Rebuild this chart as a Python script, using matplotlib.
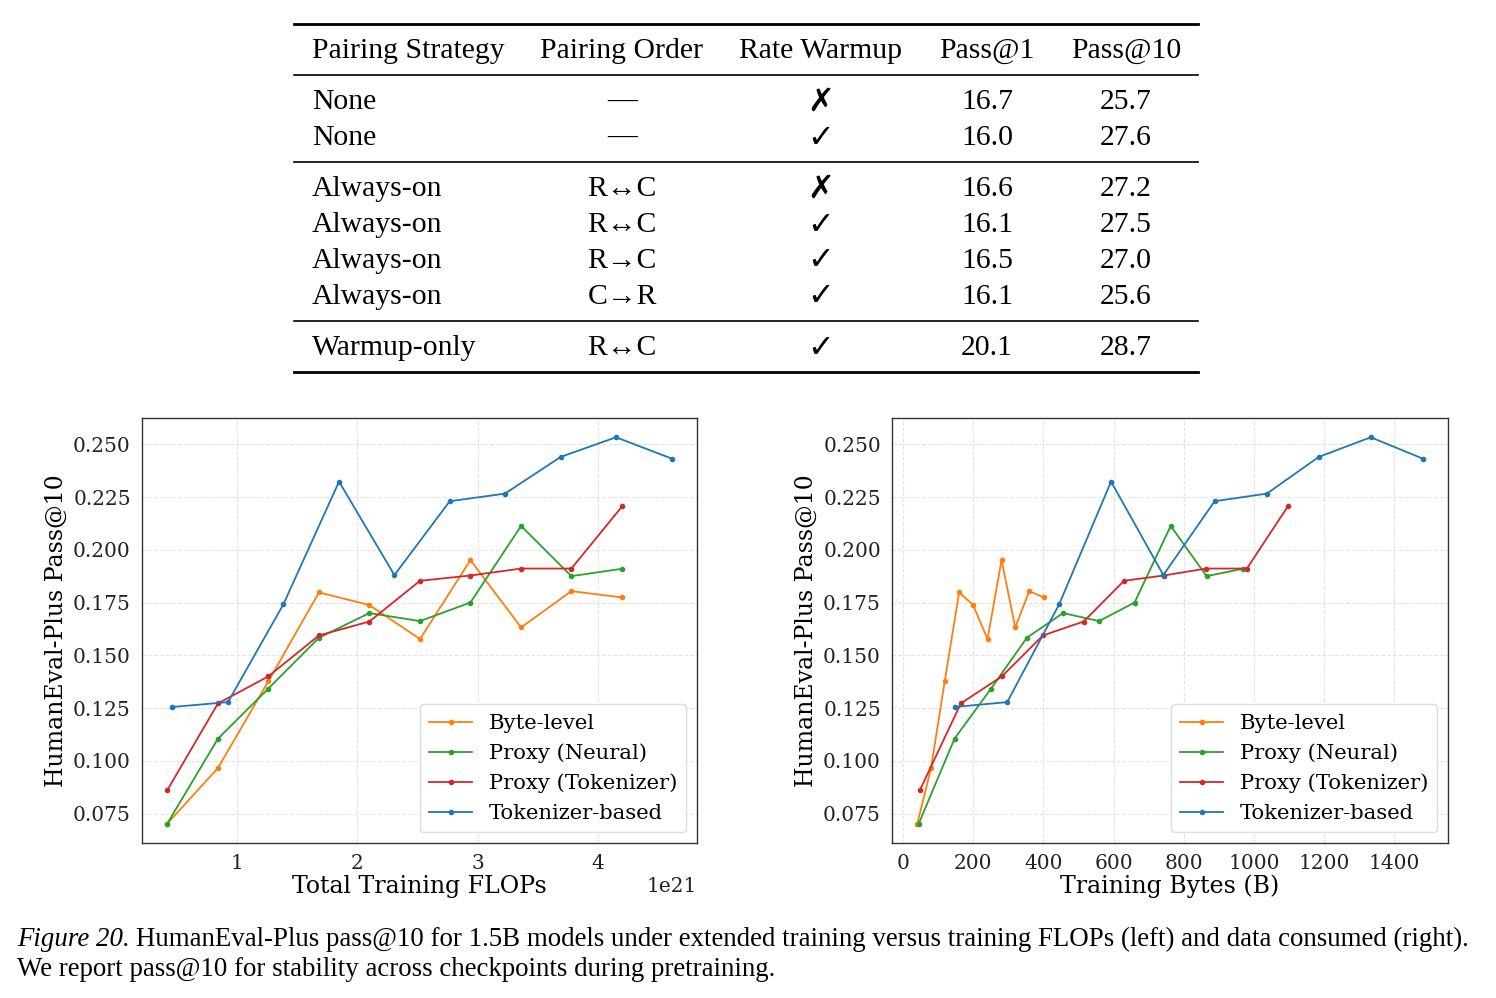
import matplotlib
matplotlib.use("Agg")
import matplotlib.pyplot as plt
from matplotlib.lines import Line2D

# --- table data ---
col_headers = ["Pairing Strategy", "Pairing Order", "Rate Warmup", "Pass@1", "Pass@10"]
strategy = ["None", "None", "Always-on", "Always-on", "Always-on", "Always-on", "Warmup-only"]
order = ["\u2014", "\u2014", "R\u2194C", "R\u2194C", "R\u2192C", "C\u2192R", "R\u2194C"]
warmup = [False, True, False, True, True, True, True]
pass1 = ["16.7", "16.0", "16.6", "16.1", "16.5", "16.1", "20.1"]
pass10 = ["25.7", "27.6", "27.2", "27.5", "27.0", "25.6", "28.7"]

# --- left plot: pass@10 vs total training FLOPs (x 1e21) ---
flops_byte = [0.421, 0.843, 1.261, 1.682, 2.101, 2.522, 2.941, 3.362, 3.780, 4.202]
flops_tok = [0.463, 0.926, 1.386, 1.849, 2.309, 2.769, 3.228, 3.691, 4.151, 4.614]

# --- right plot: training bytes (B) ---
bytes_byte = [41, 80, 119, 160, 200, 241, 281, 320, 360, 401]
bytes_neural = [45, 147, 251, 353, 456, 559, 660, 763, 865, 969]
bytes_proxy_tok = [48, 165, 282, 399, 515, 630, 743, 864, 980, 1097]
bytes_tok = [147, 297, 445, 593, 742, 888, 1037, 1185, 1333, 1481]

# --- pass@10 values ---
p10_byte = [0.0702, 0.0966, 0.1376, 0.1798, 0.1738, 0.1577, 0.1951, 0.1632, 0.1804, 0.1774]
p10_neural = [0.0702, 0.1105, 0.1342, 0.1583, 0.1700, 0.1662, 0.1750, 0.2113, 0.1875, 0.1910]
p10_proxy_tok = [0.0860, 0.1272, 0.1400, 0.1594, 0.1660, 0.1853, 0.1878, 0.1911, 0.1911, 0.2206]
p10_tok = [0.1255, 0.1278, 0.1741, 0.2323, 0.1880, 0.2230, 0.2266, 0.2440, 0.2533, 0.2432]

labels = ["Byte-level", "Proxy (Neural)", "Proxy (Tokenizer)", "Tokenizer-based"]
colors = ["#ff7f0e", "#2ca02c", "#d62728", "#1f77b4"]

W, H = 1496, 998
fig = plt.figure(figsize=(W / 100, H / 100), dpi=100)

# table drawn in a pixel-coordinate overlay
tab = fig.add_axes([0, 0, 1, 1])
tab.set_xlim(0, W)
tab.set_ylim(H, 0)
tab.axis("off")

tfont = ["Liberation Serif", "DejaVu Sans"]
tsize = 21.4
x0, x1 = 294, 1198
col_x = [312, 622, 821, 987, 1126]
col_ha = ["left", "center", "center", "center", "center"]
row_y = [102, 138, 189, 225, 261, 297, 348]

for y, lw in [(24, 2.0), (75, 1.2), (162, 1.2), (321, 1.2), (372, 2.0)]:
    tab.add_line(Line2D([x0, x1], [y, y], color="black", lw=lw))
for cx, ha, txt in zip(col_x, col_ha, col_headers):
    tab.text(cx, 51, txt, ha=ha, va="center", fontsize=tsize, family=tfont)
for i, y in enumerate(row_y):
    cells = [strategy[i], order[i], "\u2713" if warmup[i] else "\u2717", pass1[i], pass10[i]]
    for j, (cx, ha, txt) in enumerate(zip(col_x, col_ha, cells)):
        if j == 2:
            tab.text(cx, y, txt, ha=ha, va="center", fontsize=23, family="DejaVu Sans",
                     fontweight="bold")
        else:
            tab.text(cx, y, txt, ha=ha, va="center", fontsize=tsize, family=tfont)

# caption
csize = 19.4
tab.text(17, 939, "Figure 20.", ha="left", va="center", fontsize=csize,
         family="Liberation Serif", style="italic")
tab.text(136, 939, "HumanEval-Plus pass@10 for 1.5B models under extended training versus training FLOPs (left) and data consumed (right).",
         ha="left", va="center", fontsize=csize, family="Liberation Serif")
tab.text(17, 969, "We report pass@10 for stability across checkpoints during pretraining.",
         ha="left", va="center", fontsize=csize, family="Liberation Serif")

plt.rcParams["font.family"] = "DejaVu Serif"

def style_axes(ax):
    ax.grid(True, linestyle="--", color="#dddddd", linewidth=0.8, alpha=0.8)
    ax.set_axisbelow(True)
    for s in ax.spines.values():
        s.set_color("#333333")
        s.set_linewidth(1.0)
    ax.tick_params(length=0, labelsize=14.5, pad=8, colors="#222222")
    ax.set_ylabel("HumanEval-Plus Pass@10", fontsize=17)
    ax.legend(loc="lower right", fontsize=15.2, framealpha=1, edgecolor="#dddddd",
              borderpad=0.45, labelspacing=0.5, handletextpad=0.8, handlelength=2.0)

ax1 = fig.add_axes([0.0949, 0.1553, 0.3710, 0.4259])
xs_left = [flops_byte, flops_byte, flops_byte, flops_tok]
ys = [p10_byte, p10_neural, p10_proxy_tok, p10_tok]
for x, y, lab, c in zip(xs_left, ys, labels, colors):
    ax1.plot([v * 1e21 for v in x], y, "-o", color=c, lw=1.3, ms=3, label=lab)
ax1.set_xlabel("Total Training FLOPs", fontsize=17, labelpad=1)
ax1.xaxis.get_offset_text().set_fontsize(14.5)
style_axes(ax1)

ax2 = fig.add_axes([0.5963, 0.1553, 0.3716, 0.4259])
xs_right = [bytes_byte, bytes_neural, bytes_proxy_tok, bytes_tok]
for x, y, lab, c in zip(xs_right, ys, labels, colors):
    ax2.plot(x, y, "-o", color=c, lw=1.3, ms=3, label=lab)
ax2.set_xlabel("Training Bytes (B)", fontsize=17, labelpad=1)
style_axes(ax2)

fig.savefig("out.png", dpi=100)
